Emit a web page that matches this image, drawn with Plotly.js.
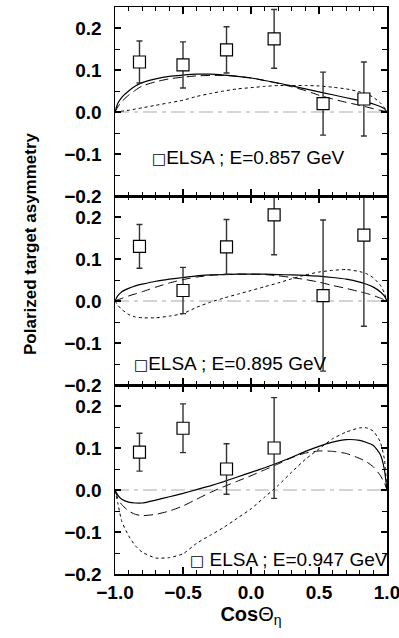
<!DOCTYPE html>
<html>
<head>
<meta charset="utf-8">
<script src="https://cdn.plot.ly/plotly-3.0.1.min.js"></script>
<style>html,body{margin:0;padding:0;background:#fff;}#chart{width:399px;height:638px;}</style>
</head>
<body>
<div id="chart"></div>
<script>
// ---------- data ----------
const energies = ["0.857", "0.895", "0.947"];
const legendLabels = ["ELSA ; E=0.857 GeV", "ELSA ; E=0.895 GeV", " ELSA ; E=0.947 GeV"];

const xData = [-0.82, -0.5, -0.18, 0.17, 0.53, 0.83];
const yData857 = [0.119, 0.112, 0.148, 0.174, 0.02, 0.031];
const eData857 = [0.05, 0.055, 0.055, 0.07, 0.075, 0.088];
const yData895 = [0.13, 0.025, 0.129, 0.205, 0.013, 0.157];
const eData895 = [0.052, 0.055, 0.065, 0.095, 0.18, 0.217];
const xData947 = [-0.82, -0.5, -0.18, 0.17];
const yData947 = [0.09, 0.147, 0.05, 0.1];
const eData947 = [0.045, 0.058, 0.06, 0.12];

// model curves
const xc = [-1, -0.98, -0.95, -0.9, -0.85, -0.8, -0.7, -0.6, -0.5, -0.4, -0.3, -0.2, -0.1, 0, 0.1, 0.2, 0.3, 0.4, 0.5, 0.6, 0.7, 0.8, 0.85, 0.9, 0.95, 0.98, 1];

const solid857  = [0, 0.02, 0.035, 0.05, 0.062, 0.07, 0.079, 0.085, 0.088, 0.09, 0.09, 0.088, 0.085, 0.081, 0.075, 0.069, 0.062, 0.055, 0.048, 0.041, 0.034, 0.027, 0.023, 0.019, 0.013, 0.008, 0];
const dashed857 = [0, 0.012, 0.025, 0.04, 0.052, 0.062, 0.072, 0.079, 0.083, 0.086, 0.087, 0.087, 0.085, 0.081, 0.075, 0.068, 0.06, 0.051, 0.04, 0.031, 0.023, 0.016, 0.012, 0.008, 0.004, 0.002, 0];
const dotted857 = [0, 0.001, 0.002, 0.004, 0.007, 0.01, 0.016, 0.022, 0.028, 0.037, 0.044, 0.05, 0.055, 0.058, 0.061, 0.063, 0.063, 0.063, 0.062, 0.059, 0.055, 0.048, 0.043, 0.035, 0.022, 0.011, 0];

const solid895  = [0, 0.012, 0.022, 0.03, 0.036, 0.04, 0.047, 0.052, 0.056, 0.06, 0.062, 0.063, 0.064, 0.064, 0.064, 0.063, 0.062, 0.061, 0.059, 0.056, 0.052, 0.045, 0.04, 0.033, 0.022, 0.012, 0];
const dashed895 = [0, 0.003, 0.006, 0.012, 0.017, 0.022, 0.033, 0.043, 0.051, 0.057, 0.061, 0.063, 0.064, 0.064, 0.063, 0.06, 0.056, 0.051, 0.045, 0.037, 0.03, 0.022, 0.018, 0.013, 0.007, 0.003, 0];
const dotted895 = [0, -0.01, -0.02, -0.032, -0.038, -0.04, -0.04, -0.036, -0.03, -0.015, -0.003, 0.007, 0.016, 0.025, 0.034, 0.043, 0.053, 0.062, 0.069, 0.073, 0.075, 0.07, 0.065, 0.055, 0.038, 0.02, 0];

const solid947  = [0, -0.012, -0.022, -0.029, -0.031, -0.031, -0.024, -0.016, -0.008, 0.001, 0.01, 0.02, 0.031, 0.042, 0.053, 0.065, 0.078, 0.092, 0.104, 0.114, 0.12, 0.118, 0.113, 0.106, 0.085, 0.05, 0];
const dashed947 = [0, -0.02, -0.035, -0.05, -0.058, -0.061, -0.058, -0.05, -0.038, -0.022, -0.006, 0.008, 0.021, 0.034, 0.048, 0.062, 0.077, 0.088, 0.093, 0.092, 0.087, 0.075, 0.067, 0.055, 0.035, 0.018, 0];
const dotted947 = [0, -0.03, -0.075, -0.109, -0.133, -0.148, -0.162, -0.161, -0.152, -0.127, -0.108, -0.089, -0.067, -0.045, -0.017, 0.011, 0.043, 0.073, 0.098, 0.122, 0.138, 0.148, 0.148, 0.14, 0.115, 0.075, 0];

// ---------- drawing ----------
const FONT = "Liberation Sans, Arial, Helvetica, sans-serif";
const panels = [
  {xa: "x3", ya: "y3", s: solid857, d: dashed857, o: dotted857, px: xData, py: yData857, pe: eData857},
  {xa: "x2", ya: "y2", s: solid895, d: dashed895, o: dotted895, px: xData, py: yData895, pe: eData895},
  {xa: "x",  ya: "y",  s: solid947, d: dashed947, o: dotted947, px: xData947, py: yData947, pe: eData947}
];

const traces = [];
panels.forEach(p => {
  traces.push({x: xc, y: p.o, xaxis: p.xa, yaxis: p.ya, mode: "lines", line: {color: "#000", width: 1, dash: "dot", shape: "spline", smoothing: 0.5}, hoverinfo: "skip"});
  traces.push({x: xc, y: p.d, xaxis: p.xa, yaxis: p.ya, mode: "lines", line: {color: "#000", width: 1, dash: "9px,5px", shape: "spline", smoothing: 0.5}, hoverinfo: "skip"});
  traces.push({x: xc, y: p.s, xaxis: p.xa, yaxis: p.ya, mode: "lines", line: {color: "#000", width: 1.2, shape: "spline", smoothing: 0.5}, hoverinfo: "skip"});
  traces.push({x: p.px, y: p.py, xaxis: p.xa, yaxis: p.ya, mode: "markers",
    marker: {symbol: "square", size: 12, color: "#fff", line: {color: "#000", width: 1.2}},
    error_y: {type: "data", array: p.pe, visible: true, color: "#333", thickness: 1.4, width: 3}});
});

function xAxis(anchor, labels) {
  return {
    domain: [0, 1], anchor: anchor, range: [-1, 1], tick0: -1, dtick: 0.5,
    ticks: "inside", ticklen: 7, tickwidth: 1.5, tickcolor: "#000",
    minor: {dtick: 0.1, ticks: "inside", ticklen: 4, tickwidth: 1, tickcolor: "#000"},
    mirror: "allticks", showline: true, linecolor: "#000", linewidth: 1.5,
    showgrid: false, zeroline: false, showticklabels: labels, tickformat: ".1f",
    ticklabelstandoff: 1, ticklabeloverflow: "allow",
    tickfont: {family: FONT, size: 19, color: "#000", weight: "bold"}
  };
}
function yAxis(anchor, dom) {
  return {
    domain: dom, anchor: anchor, range: [-0.2, 0.25], tick0: 0, dtick: 0.1,
    ticks: "inside", ticklen: 6, tickwidth: 1.2, tickcolor: "#000",
    minor: {dtick: 0.05, ticks: "inside", ticklen: 5, tickwidth: 1, tickcolor: "#000"},
    mirror: "allticks", showline: true, linecolor: "#000", linewidth: 1.5,
    showgrid: false, zeroline: false, tickformat: ".1f",
    ticklabelstandoff: 8,
    tickfont: {family: FONT, size: 19, color: "#000", weight: "bold"}
  };
}

const xa1 = xAxis("y", true);
xa1.title = {text: "<b>Cos</b>\u0398<sub>\u03b7</sub>", font: {family: FONT, size: 20, color: "#000"}, standoff: 0};

const shapes = [["x", "y"], ["x2", "y2"], ["x3", "y3"]].map(([xr, yr]) => ({
  type: "line", xref: xr + " domain", yref: yr, x0: 0, x1: 1, y0: 0, y1: 0, layer: "below",
  line: {color: "#d4d4d4", width: 2, dash: "14px,5px,4px,5px"}
}));

const legendPos = [[0.1287, 0.7354], [0.0625, 0.3704], [0.268, 0.0247]];
const annotations = legendLabels.map((t, i) => ({
  text: "<span style='font-family:DejaVu Sans;font-size:15px'>\u25A1</span>" + t, xref: "paper", yref: "paper", x: legendPos[i][0], y: legendPos[i][1],
  xanchor: "left", yanchor: "middle", showarrow: false,
  font: {family: FONT, size: 19, color: "#000"}
}));
annotations.push({
  text: "<b>Polarized target asymmetry</b>", textangle: -90, xref: "paper", yref: "paper",
  x: -0.3125, y: 0.582, xanchor: "center", yanchor: "middle", showarrow: false,
  font: {family: FONT, size: 17, color: "#000"}
});

const layout = {
  width: 399, height: 638,
  margin: {l: 115, r: 12, t: 7, b: 64},
  paper_bgcolor: "#fff", plot_bgcolor: "#fff",
  showlegend: false,
  xaxis: xa1,
  xaxis2: xAxis("y2", false),
  xaxis3: xAxis("y3", false),
  yaxis: yAxis("x", [0, 1/3]),
  yaxis2: yAxis("x2", [1/3, 2/3]),
  yaxis3: yAxis("x3", [2/3, 1]),
  shapes: shapes,
  annotations: annotations
};

Plotly.newPlot("chart", traces, layout, {staticPlot: true, displayModeBar: false});
</script>
</body>
</html>
